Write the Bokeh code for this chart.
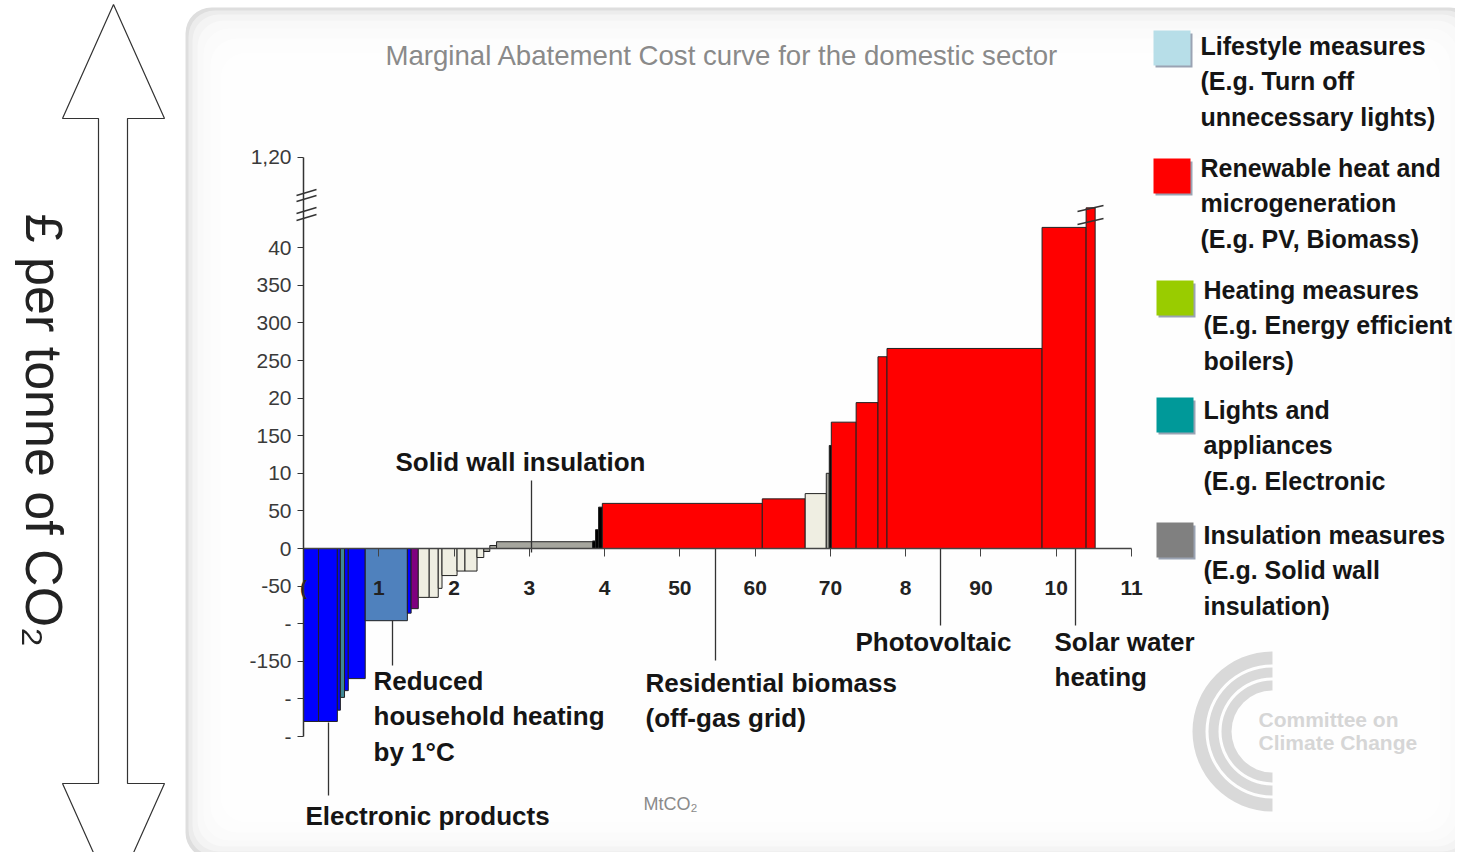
from math import pi
import numpy as np
from bokeh.plotting import figure
from bokeh.models import Range1d, LinearAxis, FixedTicker, BoxAnnotation
from bokeh.core.properties import value
from bokeh.embed import file_html
from bokeh.resources import INLINE

# ---------------- data ----------------
bar_widths = [2.0, 2.5, 0.4, 0.55, 0.5, 2.25, 5.6, 0.5, 0.95,
              1.45, 1.2, 0.5, 2.0, 1.05, 1.6, 0.9, 0.8,
              0.9, 12.75, 0.4, 0.4, 0.5, 21.25, 5.7, 2.8, 0.4, 0.27,
              3.3, 2.9, 1.2, 20.6, 5.85, 1.2]
bar_costs = [-230, -230, -215, -198, -189, -173, -96, -86, -80,
             -65, -65, -53, -36, -30, -30, -12, -4,
             4, 9, 10, 25, 55, 60, 66, 73, 100, 137,
             168, 194, 255, 266, 427, 453]
bar_groups = ["electronics", "electronics", "electronics", "lighting", "electronics", "electronics",
              "behaviour", "electronics", "cooking",
              "heating", "heating", "heating", "heating", "heating", "heating", "heating", "insulation",
              "insulation", "insulation", "lights", "lights", "lights", "renewable", "renewable",
              "heating", "insulation", "lights",
              "renewable", "renewable", "renewable", "renewable", "renewable", "renewable"]

x_ticks = [0, 10, 20, 30, 40, 50, 60, 70, 80, 90, 100, 110]
x_tick_labels = ["(", "1", "2", "3", "4", "50", "60", "70", "8", "90", "10", "11"]
y_ticks = [-250, -200, -150, -100, -50, 0, 50, 100, 150, 200, 250, 300, 350, 400, 520]
y_tick_labels = ["-", "-", "-150", "-", "-50", "0", "50", "10", "150", "20", "250", "300", "350", "40", "1,20"]

title_text = "Marginal Abatement Cost curve for the domestic sector"
x_title = "MtCO₂"
y_title = "£ per tonne of CO₂"

legend_labels = [
    ["Lifestyle measures", "(E.g. Turn off", "unnecessary lights)"],
    ["Renewable heat and", "microgeneration", "(E.g. PV, Biomass)"],
    ["Heating measures", "(E.g. Energy efficient", "boilers)"],
    ["Lights and", "appliances", "(E.g. Electronic"],
    ["Insulation measures", "(E.g. Solid wall", "insulation)"],
]
annotation_labels = [
    ["Solid wall insulation"],
    ["Reduced", "household heating", "by 1°C"],
    ["Electronic products"],
    ["Residential biomass", "(off-gas grid)"],
    ["Photovoltaic"],
    ["Solar water", "heating"],
]
logo_lines = ["Committee on", "Climate Change"]

# ---------------- styles / layout ----------------
group_colors = {
    "electronics": "#0000ff", "lighting": "#3f8795", "behaviour": "#4f81bd",
    "cooking": "#7f007f", "heating": "#efeee2", "insulation": "#a6a69e",
    "lights": "#000000", "renewable": "#ff0000",
}
legend_colors = ["#b7dee8", "#ff0000", "#99cc00", "#009999", "#808080"]

W, H, M = 1455, 852, 0
X0, Y0 = 303.0, 548.0            # picture px of data origin
SX, SY = 828.0 / 110.0, 37.6 / 50.0


def dx(px):
    return (px - X0) / SX


def dy(py):
    return (Y0 - py) / SY


p = figure(width=W, height=H, x_range=Range1d(dx(M), dx(M + W)),
           y_range=Range1d(dy(M + H), dy(M)), output_backend="svg",
           toolbar_location=None, x_axis_location=None, y_axis_location=None,
           min_border=0, outline_line_color=None,
           background_fill_color="white", border_fill_color="white")
p.grid.visible = False

# panel background (soft gradient)
p.add_layout(BoxAnnotation(left=dx(185), right=dx(1475), top=dy(7), bottom=dy(858),
                           fill_color="#dedede", fill_alpha=1, line_color=None,
                           border_radius=26, level="underlay"))
for l, t, b, r in [(188, 10, 855, 1472), (192, 14, 851, 1468), (197, 20, 846, 1463),
                   (203, 28, 840, 1457), (210, 38, 832, 1450), (220, 52, 822, 1440)]:
    p.add_layout(BoxAnnotation(left=dx(l), right=dx(r), top=dy(t), bottom=dy(b),
                               fill_color="white", fill_alpha=0.42, line_color=None,
                               border_radius=26, level="underlay"))

# big double arrow on the left
arrow_px = [(113, 4), (164, 118), (127, 118), (127, 783), (164, 783), (113, 897),
            (62, 783), (98, 783), (98, 118), (62, 118)]
p.patch([dx(a) for a, _ in arrow_px], [dy(b) for _, b in arrow_px],
        fill_color="white", line_color="#333333", line_width=1.2)
p.text(x=[dx(43)], y=[dy(430)], text=[y_title], angle=-pi / 2,
       text_align="center", text_baseline="middle", text_font=value("Liberation Sans"),
       text_font_size="52px", text_color="#222222")

# logo
lx, ly = dx(1272), dy(731)
for r0, r1 in [(67, 80), (54, 64), (41, 51)]:
    p.annular_wedge(x=[lx], y=[ly], inner_radius=r0, outer_radius=r1,
                    inner_radius_units="screen", outer_radius_units="screen",
                    start_angle=pi / 2, end_angle=3 * pi / 2,
                    fill_color="#d9d9d9", line_color=None)
p.text(x=[dx(1258)] * 2, y=[dy(719), dy(742)], text=logo_lines,
       text_font=value("Liberation Sans"), text_font_style="bold",
       text_font_size="21px", text_color="#d6d6d6", text_baseline="middle")

# bars
widths = np.array(bar_widths)
rights = np.cumsum(widths)
lefts = rights - widths
costs = np.array(bar_costs, dtype=float)
p.quad(left=lefts, right=rights, bottom=np.minimum(costs, 0), top=np.maximum(costs, 0),
       fill_color=[group_colors[g] for g in bar_groups],
       line_color="#222222", line_width=1)

# axes through the origin
xax = LinearAxis(fixed_location=0, bounds=(x_ticks[0], x_ticks[-1]),
                 ticker=FixedTicker(ticks=x_ticks),
                 major_label_overrides=dict(zip(x_ticks, x_tick_labels)),
                 axis_line_color="#444444", axis_line_width=1.5,
                 major_tick_line_color="#444444", major_tick_out=8, major_tick_in=0,
                 minor_tick_out=0, minor_tick_in=0,
                 major_label_text_font="Liberation Sans", major_label_text_font_style="bold",
                 major_label_text_font_size="21px", major_label_text_color="#222222",
                 major_label_standoff=19)
p.add_layout(xax, "below")
yax = LinearAxis(fixed_location=0, bounds=(y_ticks[0], y_ticks[-1]),
                 ticker=FixedTicker(ticks=y_ticks),
                 major_label_overrides=dict(zip(y_ticks, y_tick_labels)),
                 axis_line_color="#333333", axis_line_width=1.5,
                 major_tick_line_color="#333333", major_tick_out=6, major_tick_in=0,
                 minor_tick_out=0, minor_tick_in=0,
                 major_label_text_font="Liberation Sans",
                 major_label_text_font_size="21px", major_label_text_color="#3a3a3a",
                 major_label_standoff=6)
p.add_layout(yax, "left")

# axis break marks
brk = [(296, c + 3, 316, c - 3) for c in (192, 198, 210, 217)]
brk += [(1077, 211, 1103, 205), (1077, 224, 1103, 218)]
p.segment(x0=[dx(a) for a, _, _, _ in brk], y0=[dy(b) for _, b, _, _ in brk],
          x1=[dx(c) for _, _, c, _ in brk], y1=[dy(d) for _, _, _, d in brk],
          line_color="#333333", line_width=1.4)

# title and x-unit
p.text(x=[dx(385)], y=[dy(55)], text=[title_text], text_font=value("Liberation Sans"),
       text_font_size="27.6px", text_color="#8a8a8a", text_baseline="middle")
p.text(x=[dx(643)], y=[dy(803)], text=[x_title], text_font=value("Liberation Sans"),
       text_font_size="18px", text_color="#8a8a8a", text_baseline="middle")

# annotations with leader lines
ann_layout = [  # leader x, leader y0, leader y1, text left, first line y (picture px)
    (531, 480, 552, 395, 461),
    (392, 620, 665, 373, 680),
    (328, 722, 795, 305, 815),
    (715, 548, 660, 645, 682),
    (940, 548, 625, 855, 641),
    (1075, 548, 625, 1054, 641),
]
step = 35.5
p.segment(x0=[dx(a[0]) for a in ann_layout], y0=[dy(a[1]) for a in ann_layout],
          x1=[dx(a[0]) for a in ann_layout], y1=[dy(a[2]) for a in ann_layout],
          line_color="#333333", line_width=1.3)
tx, ty, tt = [], [], []
for lines, lay in zip(annotation_labels, ann_layout):
    for k, s in enumerate(lines):
        tx.append(dx(lay[3]))
        ty.append(dy(lay[4] + k * step))
        tt.append(s)
p.text(x=tx, y=ty, text=tt, text_font=value("Liberation Sans"), text_font_style="bold",
       text_font_size="26px", text_color="#151515", text_baseline="middle")

# legend
sq_top = [30, 158, 280, 397, 522]
sq_left = [1153, 1153, 1156, 1156, 1156]
txt_left = [1200, 1200, 1203, 1203, 1203]
txt_y = [45, 167, 289, 409, 534]
p.quad(left=[dx(l + 2) for l in sq_left], right=[dx(l + 39) for l in sq_left],
       top=[dy(t + 3) for t in sq_top], bottom=[dy(t + 37) for t in sq_top],
       fill_color="#9aa3b3", line_color=None)
p.quad(left=[dx(l) for l in sq_left], right=[dx(l + 37) for l in sq_left],
       top=[dy(t) for t in sq_top], bottom=[dy(t + 35) for t in sq_top],
       fill_color=legend_colors, line_color=None)
lx_, ly_, lt_ = [], [], []
for lines, x0, y0 in zip(legend_labels, txt_left, txt_y):
    for k, s in enumerate(lines):
        lx_.append(dx(x0))
        ly_.append(dy(y0 + k * step))
        lt_.append(s)
p.text(x=lx_, y=ly_, text=lt_, text_font=value("Liberation Sans"), text_font_style="bold",
       text_font_size="25px", text_color="#151515", text_baseline="middle")

open("out.html", "w").write(file_html(p, INLINE))
